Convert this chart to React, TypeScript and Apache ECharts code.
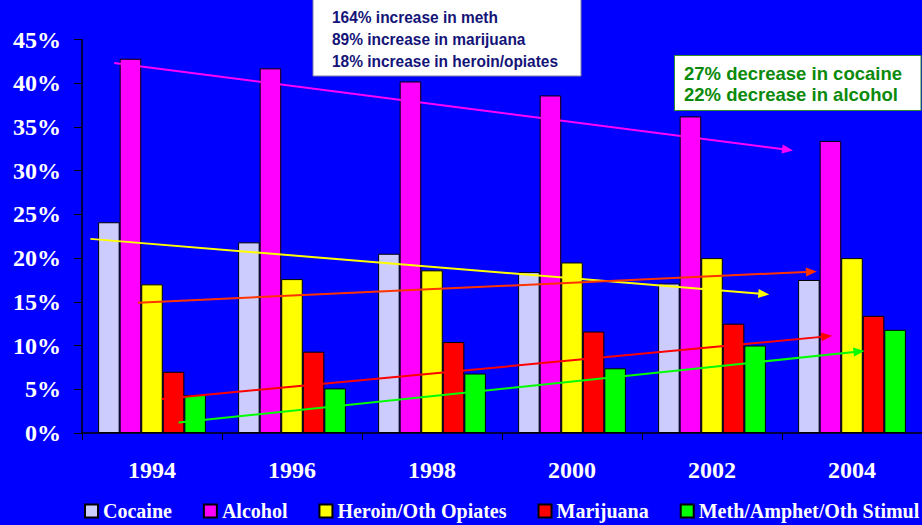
import React, { useEffect, useRef } from "react";
import * as echarts from "echarts";

const years = ["1994", "1996", "1998", "2000", "2002", "2004"];
const seriesNames = ["Cocaine", "Alcohol", "Heroin/Oth Opiates", "Marijuana", "Meth/Amphet/Oth Stimul"];
const cocaine = [24.1, 21.8, 20.5, 18.4, 17.1, 17.5];
const alcohol = [42.8, 41.7, 40.2, 38.6, 36.2, 33.4];
const heroin = [17.0, 17.6, 18.6, 19.5, 20.0, 20.0];
const marijuana = [7.0, 9.3, 10.4, 11.6, 12.5, 13.4];
const meth = [4.35, 5.1, 6.8, 7.4, 10.0, 11.8];
const seriesColors = ["#CCCCFF", "#FF00FF", "#FFFF00", "#FF0000", "#00FF00"];

// trend arrows in data units: [xStart, yStart, xEnd, yEnd] (x in category-index units)
const trendLines = [
  [-0.27, 42.3, 4.54, 32.4],
  [-0.44, 22.2, 4.37, 15.9],
  [-0.1, 14.9, 4.71, 18.45],
  [0.07, 3.9, 4.82, 11.05],
  [0.19, 1.2, 5.05, 9.32],
];
const trendColors = ["#FF00FF", "#FFFF00", "#FF3300", "#FF0000", "#00FF00"];

const increaseNotes = ["164% increase in meth", "89% increase in marijuana", "18% increase in heroin/opiates"];
const decreaseNotes = ["27% decrease in cocaine", "22% decrease in alcohol"];
const yTicks = { min: 0, max: 45, interval: 5 };

const serif = "'Liberation Serif', 'Times New Roman', serif";
const sans = "'Liberation Sans', Arial, sans-serif";

export default function App() {
  const ref = useRef<HTMLDivElement>(null);
  useEffect(() => {
    if (!ref.current) return;
    const chart = echarts.init(ref.current, null, { renderer: "svg" });
    const values = [cocaine, alcohol, heroin, marijuana, meth];
    const barSeries = values.map((d, i) => ({
      name: seriesNames[i],
      type: "bar",
      data: d,
      barGap: "0%",
      barCategoryGap: "23%",
      itemStyle: { color: seriesColors[i], borderColor: "#000", borderWidth: 1 },
      emphasis: { disabled: true },
    }));
    const trendSeries = {
      type: "line",
      xAxisIndex: 1,
      yAxisIndex: 0,
      data: [],
      silent: true,
      z: 5,
      markLine: {
        silent: true,
        symbol: ["none", "triangle"],
        symbolSize: [9, 11],
        label: { show: false },
        emphasis: { disabled: true },
        data: trendLines.map((t, i) => [
          { coord: [t[0], t[1]], lineStyle: { color: trendColors[i], width: 2, type: "solid" }, itemStyle: { color: trendColors[i] } },
          { coord: [t[2], t[3]] },
        ]),
      },
    };
    const graphic: any[] = [
      {
        type: "rect",
        shape: { x: 313, y: -2, width: 268, height: 78 },
        style: { fill: "#fff", stroke: "#8080a8", lineWidth: 1 },
        z: 10,
      },
      ...increaseNotes.map((t, i) => ({
        type: "text",
        x: 332,
        y: 17 + i * 22,
        scaleX: 0.91,
        style: { text: t, fill: "#141478", font: `bold 17px ${sans}`, textVerticalAlign: "middle" },
        z: 11,
      })),
      {
        type: "rect",
        shape: { x: 674.5, y: 55.5, width: 246.5, height: 55 },
        style: { fill: "#fff", stroke: "#2e8b2e", lineWidth: 1 },
        z: 10,
      },
      ...decreaseNotes.map((t, i) => ({
        type: "text",
        x: 684,
        y: 73.5 + i * 21,
        style: { text: t, fill: "#0b8a0b", font: `bold 18.5px ${sans}`, textVerticalAlign: "middle" },
        z: 11,
      })),
    ];
    chart.setOption({
      animation: false,
      backgroundColor: "#0000FF",
      grid: { left: 82, top: 39.5, width: 841, height: 393.5, containLabel: false },
      legend: {
        data: seriesNames,
        bottom: -1,
        left: 79,
        width: 900,
        itemWidth: 13,
        itemHeight: 13,
        itemGap: 31,
        icon: "rect",
        textStyle: { color: "#fff", fontFamily: serif, fontWeight: "bold", fontSize: 20, padding: [0, 0, 0, 0] },
        selectedMode: false,
      },
      xAxis: [
        {
          type: "category",
          data: years,
          axisLine: { lineStyle: { color: "#000", width: 1.5 } },
          axisTick: { show: true, length: 7, lineStyle: { color: "#000" } },
          axisLabel: { color: "#fff", fontFamily: serif, fontWeight: "bold", fontSize: 24, margin: 25 },
        },
        { type: "value", min: -0.5, max: 5.5, show: false },
      ],
      yAxis: {
        type: "value",
        min: yTicks.min,
        max: yTicks.max,
        interval: yTicks.interval,
        axisLine: { show: true, onZero: false, lineStyle: { color: "#000", width: 1.5 } },
        axisTick: { show: true, length: 8, lineStyle: { color: "#000" } },
        splitLine: { show: false },
        axisLabel: { color: "#fff", fontFamily: serif, fontWeight: "bold", fontSize: 24, margin: 21, formatter: "{value}%" },
      },
      series: [...barSeries, trendSeries],
      graphic,
    });
    return () => chart.dispose();
  }, []);
  return <div ref={ref} style={{ position: "fixed", left: 0, top: 0, width: 922, height: 525 }} />;
}
